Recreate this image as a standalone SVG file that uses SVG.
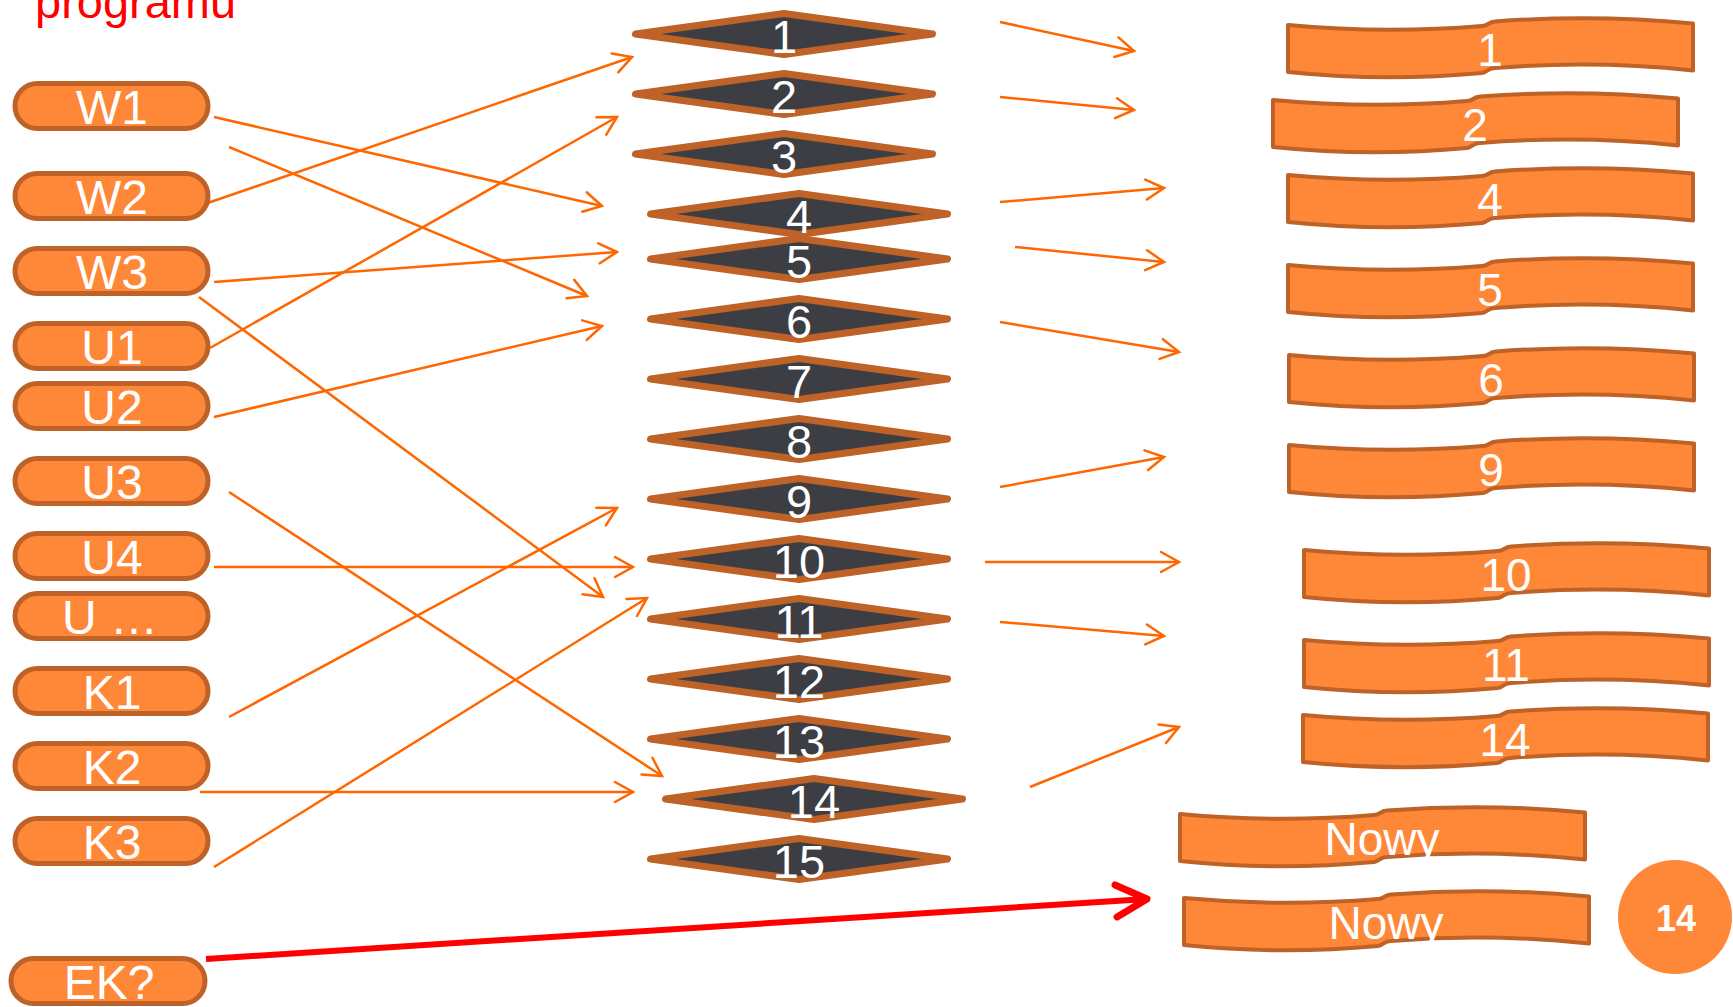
<svg xmlns="http://www.w3.org/2000/svg" xmlns:xlink="http://www.w3.org/1999/xlink" width="1733" height="1007" viewBox="0 0 1733 1007">
<style>
.pill{fill:#FF8838;stroke:#BE6228;stroke-width:5}
.dia{fill:#3D3E43;stroke:#BE6228;stroke-width:7;stroke-linejoin:round}
.box{fill:#FF8838;stroke:#BE6228;stroke-width:4;stroke-linejoin:round}
.t{font-family:"Liberation Sans",Arial,sans-serif;fill:#FFFFFF;text-anchor:middle}
.tp{font-size:48px}
.td{font-size:47px}
.tb{font-size:46px}
.c{stroke:#FF6600;stroke-width:2.5;fill:none;marker-end:url(#ah)}
.r{stroke:#FF0000;stroke-width:6;fill:none;marker-end:url(#ahr)}
</style>
<defs>
<marker id="ah" markerUnits="userSpaceOnUse" viewBox="-22 -13 26 26" refX="0" refY="0" markerWidth="26" markerHeight="26" orient="auto">
<path d="M-18,-10 L0,0 L-18,10" fill="none" stroke="#FF6600" stroke-width="2.5" stroke-linecap="round" stroke-linejoin="miter"/>
</marker>
<marker id="ahr" markerUnits="userSpaceOnUse" viewBox="-40 -22 46 44" refX="0" refY="0" markerWidth="46" markerHeight="44" orient="auto">
<path d="M-31,-16 L0,0 L-31,16" fill="none" stroke="#FF0000" stroke-width="7" stroke-linecap="round" stroke-linejoin="round"/>
</marker>
<path id="wave" d="M0,0 Q97,9 194,1 C200,1 200,-3 207,-3.5 Q306,-11 405,-1.5 L405,45.5 Q306,35 207,43 C200,43 200,47 194,48 Q97,57 0,47 Z"/>
<path id="dm" d="M-148.5,0 L0,-20.5 L148.5,0 L0,20.5 Z"/>
</defs>

<text x="35" y="18" font-family="&quot;Liberation Sans&quot;,Arial,sans-serif" font-size="47" fill="#FF0000">programu</text>

<g id="connectors">
<line class="c" x1="214" y1="117" x2="602" y2="206"/>
<line class="c" x1="199" y1="206" x2="632" y2="57"/>
<line class="c" x1="229" y1="147" x2="587" y2="296"/>
<line class="c" x1="210" y1="348" x2="617" y2="117"/>
<line class="c" x1="214" y1="282" x2="617" y2="252"/>
<line class="c" x1="199" y1="297" x2="603" y2="597"/>
<line class="c" x1="214" y1="417" x2="602" y2="326"/>
<line class="c" x1="229" y1="492" x2="662" y2="776"/>
<line class="c" x1="214" y1="567" x2="633" y2="567"/>
<line class="c" x1="229" y1="717" x2="617" y2="508"/>
<line class="c" x1="214" y1="867" x2="647" y2="598"/>
<line class="c" x1="200" y1="792" x2="633" y2="792"/>
<line class="c" x1="1000" y1="22" x2="1134" y2="51"/>
<line class="c" x1="1000" y1="97" x2="1134" y2="110"/>
<line class="c" x1="1000" y1="202" x2="1164" y2="188"/>
<line class="c" x1="1015" y1="247" x2="1164" y2="262"/>
<line class="c" x1="1000" y1="322" x2="1179" y2="352"/>
<line class="c" x1="1000" y1="487" x2="1164" y2="457"/>
<line class="c" x1="985" y1="562" x2="1179" y2="562"/>
<line class="c" x1="1000" y1="622" x2="1164" y2="636"/>
<line class="c" x1="1030" y1="787" x2="1179" y2="727"/>
<line class="r" x1="206" y1="959" x2="1147" y2="899"/>
</g>

<g id="W1"><rect class="pill" x="15" y="83.5" width="193" height="45" rx="22.5"/><text class="t tp" x="112" y="124">W1</text></g>
<g id="W2"><rect class="pill" x="15" y="173.5" width="193" height="45" rx="22.5"/><text class="t tp" x="112" y="214">W2</text></g>
<g id="W3"><rect class="pill" x="15" y="248.5" width="193" height="45" rx="22.5"/><text class="t tp" x="112" y="289">W3</text></g>
<g id="U1"><rect class="pill" x="15" y="323.5" width="193" height="45" rx="22.5"/><text class="t tp" x="112" y="364">U1</text></g>
<g id="U2"><rect class="pill" x="15" y="383.5" width="193" height="45" rx="22.5"/><text class="t tp" x="112" y="424">U2</text></g>
<g id="U3"><rect class="pill" x="15" y="458.5" width="193" height="45" rx="22.5"/><text class="t tp" x="112" y="499">U3</text></g>
<g id="U4"><rect class="pill" x="15" y="533.5" width="193" height="45" rx="22.5"/><text class="t tp" x="112" y="574">U4</text></g>
<g id="Udots"><rect class="pill" x="15" y="593.5" width="193" height="45" rx="22.5"/><text class="t tp" x="110" y="634">U …</text></g>
<g id="K1"><rect class="pill" x="15" y="668.5" width="193" height="45" rx="22.5"/><text class="t tp" x="112" y="709">K1</text></g>
<g id="K2"><rect class="pill" x="15" y="743.5" width="193" height="45" rx="22.5"/><text class="t tp" x="112" y="784">K2</text></g>
<g id="K3"><rect class="pill" x="15" y="818.5" width="193" height="45" rx="22.5"/><text class="t tp" x="112" y="859">K3</text></g>
<g id="EK"><rect class="pill" x="11" y="958.5" width="194" height="45" rx="22.5"/><text class="t tp" x="109" y="999">EK?</text></g>

<g id="d1"><use href="#dm" class="dia" x="784" y="34"/><text class="t td" x="784" y="53">1</text></g>
<g id="d2"><use href="#dm" class="dia" x="784" y="94"/><text class="t td" x="784" y="113">2</text></g>
<g id="d3"><use href="#dm" class="dia" x="784" y="154"/><text class="t td" x="784" y="173">3</text></g>
<g id="d4"><use href="#dm" class="dia" x="799" y="214"/><text class="t td" x="799" y="233">4</text></g>
<g id="d5"><use href="#dm" class="dia" x="799" y="259"/><text class="t td" x="799" y="278">5</text></g>
<g id="d6"><use href="#dm" class="dia" x="799" y="319"/><text class="t td" x="799" y="338">6</text></g>
<g id="d7"><use href="#dm" class="dia" x="799" y="379"/><text class="t td" x="799" y="398">7</text></g>
<g id="d8"><use href="#dm" class="dia" x="799" y="439"/><text class="t td" x="799" y="458">8</text></g>
<g id="d9"><use href="#dm" class="dia" x="799" y="499"/><text class="t td" x="799" y="518">9</text></g>
<g id="d10"><use href="#dm" class="dia" x="799" y="559"/><text class="t td" x="799" y="578">10</text></g>
<g id="d11"><use href="#dm" class="dia" x="799" y="619"/><text class="t td" x="799" y="638">11</text></g>
<g id="d12"><use href="#dm" class="dia" x="799" y="679"/><text class="t td" x="799" y="698">12</text></g>
<g id="d13"><use href="#dm" class="dia" x="799" y="739"/><text class="t td" x="799" y="758">13</text></g>
<g id="d14"><use href="#dm" class="dia" x="814" y="799"/><text class="t td" x="814" y="818">14</text></g>
<g id="d15"><use href="#dm" class="dia" x="799" y="859"/><text class="t td" x="799" y="878">15</text></g>

<g id="b1"><use href="#wave" class="box" x="1288" y="25"/><text class="t tb" x="1490" y="66">1</text></g>
<g id="b2"><use href="#wave" class="box" x="1273" y="100"/><text class="t tb" x="1475" y="141">2</text></g>
<g id="b4"><use href="#wave" class="box" x="1288" y="175"/><text class="t tb" x="1490" y="216">4</text></g>
<g id="b5"><use href="#wave" class="box" x="1288" y="265"/><text class="t tb" x="1490" y="306">5</text></g>
<g id="b6"><use href="#wave" class="box" x="1289" y="355"/><text class="t tb" x="1491" y="396">6</text></g>
<g id="b9"><use href="#wave" class="box" x="1289" y="445"/><text class="t tb" x="1491" y="486">9</text></g>
<g id="b10"><use href="#wave" class="box" x="1304" y="550"/><text class="t tb" x="1506" y="591">10</text></g>
<g id="b11"><use href="#wave" class="box" x="1304" y="640"/><text class="t tb" x="1506" y="681">11</text></g>
<g id="b14"><use href="#wave" class="box" x="1303" y="715"/><text class="t tb" x="1505" y="756">14</text></g>
<g id="nowy1"><use href="#wave" class="box" x="1180" y="814"/><text class="t tb" x="1382" y="855">Nowy</text></g>
<g id="nowy2"><use href="#wave" class="box" x="1184" y="898"/><text class="t tb" x="1386" y="939">Nowy</text></g>

<g id="badge"><circle cx="1675" cy="917" r="57" fill="#FF8838"/><text class="t" x="1676" y="931" font-size="36" font-weight="bold">14</text></g>
</svg>
